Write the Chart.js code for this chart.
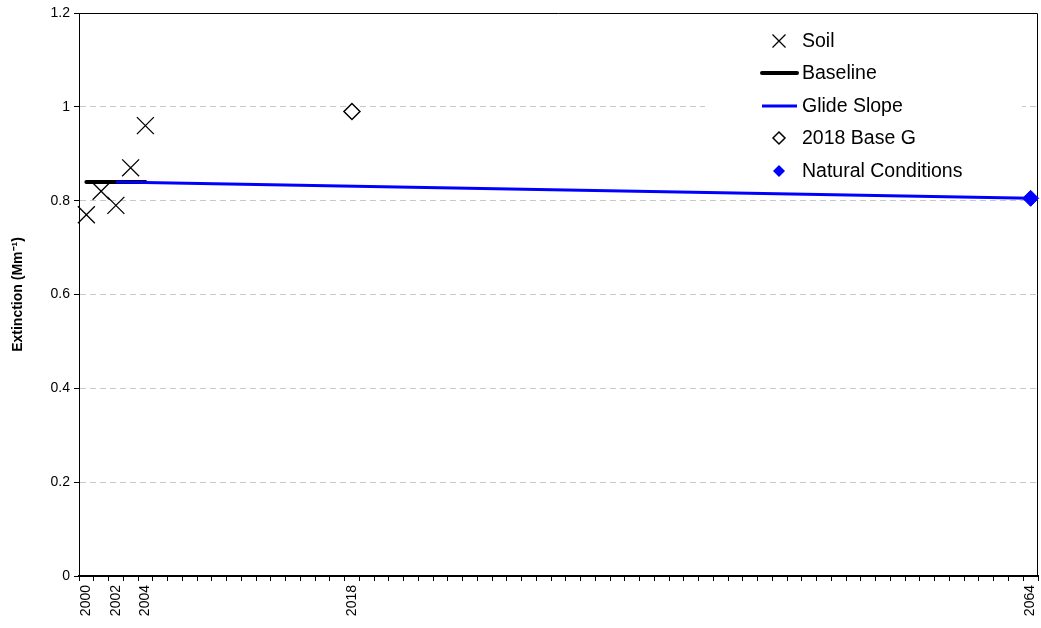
<!DOCTYPE html>
<html>
<head>
<meta charset="utf-8">
<script src="https://cdn.jsdelivr.net/npm/chart.js@4/dist/chart.umd.min.js"></script>
<style>
  html, body { margin: 0; padding: 0; background: #fff; }
  #wrap { width: 1041px; height: 628px; }
</style>
</head>
<body>
<div id="wrap"><canvas id="extinctionChart"></canvas></div>
<script>
// categories: one per year, only a few get a label
const firstYear = 2000;
const lastYear = 2064;
const labeledYears = [2000, 2002, 2004, 2018, 2064];
const yTicks = [0, 0.2, 0.4, 0.6, 0.8, 1, 1.2];

const soilYears = [2000, 2001, 2002, 2003, 2004];
const soilValues = [0.77, 0.82, 0.79, 0.87, 0.96];

const baselineYears = [2000, 2004];
const baselineValues = [0.84, 0.84];

const glideYears = [2002, 2064];
const glideValues = [0.84, 0.805];

const baseGYears = [2018];
const baseGValues = [0.99];

const naturalYears = [2064];
const naturalValues = [0.805];

const years = [];
for (let y = firstYear; y <= lastYear; y++) years.push(String(y));

function points(xs, ys) {
    return xs.map((x, i) => ({ x: String(x), y: ys[i] }));
}

Chart.defaults.font.family = "'Liberation Sans', Arial, sans-serif";
Chart.defaults.color = "#000";

// legend drawn inside the plot, on a white box
const boxLegend = {
    id: "boxLegend",
    afterDraw(chart) {
        const ctx = chart.ctx;
        ctx.save();
        ctx.fillStyle = "#fff";
        ctx.fillRect(705, 24, 317, 164);
        ctx.font = "19.5px 'Liberation Sans', Arial, sans-serif";
        ctx.textBaseline = "middle";
        ctx.textAlign = "left";
        const rows = [41, 73, 106, 138, 171];
        const mx = 779;
        chart.data.datasets.forEach((ds, i) => {
            const y = rows[i];
            ctx.strokeStyle = "#000";
            ctx.fillStyle = "#000";
            if (i === 0) {
                ctx.lineWidth = 1.3;
                ctx.beginPath();
                ctx.moveTo(mx - 6.5, y - 6.5); ctx.lineTo(mx + 6.5, y + 6.5);
                ctx.moveTo(mx + 6.5, y - 6.5); ctx.lineTo(mx - 6.5, y + 6.5);
                ctx.stroke();
            } else if (i === 1 || i === 2) {
                ctx.lineWidth = i === 1 ? 4 : 3;
                ctx.strokeStyle = ds.borderColor;
                ctx.lineCap = i === 1 ? "round" : "butt";
                ctx.beginPath();
                ctx.moveTo(762, y); ctx.lineTo(797, y);
                ctx.stroke();
            } else {
                ctx.lineWidth = 1.5;
                ctx.beginPath();
                ctx.moveTo(mx, y - 6); ctx.lineTo(mx + 6, y);
                ctx.lineTo(mx, y + 6); ctx.lineTo(mx - 6, y);
                ctx.closePath();
                if (i === 4) {
                    ctx.fillStyle = "#0000ff";
                    ctx.fill();
                } else {
                    ctx.strokeStyle = "#000";
                    ctx.stroke();
                }
            }
            ctx.fillStyle = "#000";
            ctx.fillText(ds.label, 802, y + 1);
        });
        ctx.restore();
    },
};

// top and right edges of the plot frame
const frame = {
    id: "frame",
    beforeDatasetsDraw(chart) {
        const a = chart.chartArea;
        const ctx = chart.ctx;
        ctx.save();
        ctx.strokeStyle = "#000";
        ctx.lineWidth = 1;
        ctx.beginPath();
        ctx.moveTo(a.left, a.top + 0.5);
        ctx.lineTo(a.right - 0.5, a.top + 0.5);
        ctx.lineTo(a.right - 0.5, a.bottom);
        ctx.stroke();
        ctx.restore();
    },
};

let extinctionChart = new Chart(document.getElementById("extinctionChart"), {
    type: "line",
    data: {
        labels: years,
        datasets: [
            {
                label: "Soil",
                data: points(soilYears, soilValues),
                showLine: false,
                pointStyle: "crossRot",
                pointRadius: 12,
                pointBorderColor: "#000",
                pointBorderWidth: 1.3,
                borderColor: "#000",
                order: 0,
            },
            {
                label: "Baseline",
                data: points(baselineYears, baselineValues),
                borderColor: "#000",
                borderWidth: 4,
                borderCapStyle: "round",
                pointRadius: 0,
                order: 4,
            },
            {
                label: "Glide Slope",
                data: points(glideYears, glideValues),
                borderColor: "#0000ff",
                borderWidth: 3,
                pointRadius: 0,
                order: 3,
            },
            {
                label: "2018 Base G",
                data: points(baseGYears, baseGValues),
                showLine: false,
                pointStyle: "rectRot",
                pointRadius: 8,
                pointBackgroundColor: "#fff",
                pointBorderColor: "#000",
                pointBorderWidth: 1.5,
                borderColor: "#000",
                order: 2,
            },
            {
                label: "Natural Conditions",
                data: points(naturalYears, naturalValues),
                showLine: false,
                pointStyle: "rectRot",
                pointRadius: 8,
                pointBackgroundColor: "#0000ff",
                pointBorderColor: "#0000ff",
                pointBorderWidth: 1,
                borderColor: "#0000ff",
                order: 1,
            },
        ],
    },
    options: {
        responsive: true,
        maintainAspectRatio: false,
        animation: false,
        clip: false,
        layout: { autoPadding: false, padding: { top: 13, right: 3, left: 0, bottom: 0 } },
        plugins: {
            legend: { display: false },
            tooltip: { enabled: false },
        },
        scales: {
            x: {
                type: "category",
                offset: true,
                grid: {
                    offset: true,
                    drawOnChartArea: false,
                    drawTicks: true,
                    tickLength: 5,
                    tickColor: "#000",
                },
                border: { color: "#000", width: 2 },
                ticks: {
                    autoSkip: false,
                    maxRotation: 90,
                    minRotation: 90,
                    padding: 4,
                    font: { size: 14 },
                    callback: function (value) {
                        const lab = this.getLabelForValue(value);
                        return labeledYears.includes(Number(lab)) ? lab : "";
                    },
                },
                afterFit: (scale) => {
                    scale.height = 52;
                    scale.paddingLeft = 0;
                    scale.paddingRight = 0;
                },
            },
            y: {
                min: 0,
                max: 1.2,
                afterBuildTicks: (scale) => {
                    scale.ticks = yTicks.map((v) => ({ value: v }));
                },
                grid: {
                    color: (c) => (c.tick && c.tick.value > 0.01 && c.tick.value < 1.19 ? "#c8c8c8" : "rgba(0,0,0,0)"),
                    tickColor: "#000",
                    tickLength: 5,
                },
                border: { color: "#000", width: 1, dash: [6, 4] },
                ticks: {
                    font: { size: 14 },
                    padding: 4,
                    callback: (v) => String(Math.round(v * 10) / 10),
                },
                title: {
                    display: true,
                    text: "Extinction (Mm⁻¹)",
                    font: { size: 14, weight: "bold" },
                    padding: { top: 10, bottom: 0 },
                },
                afterFit: (scale) => {
                    scale.width = 79;
                    scale.paddingTop = 0;
                    scale.paddingBottom = 0;
                },
            },
        },
    },
    plugins: [frame, boxLegend],
});
</script>
</body>
</html>
